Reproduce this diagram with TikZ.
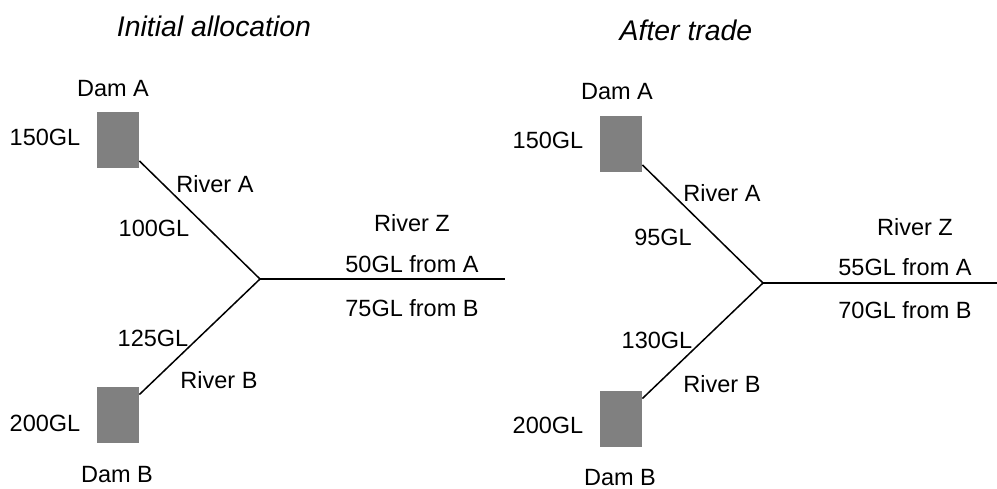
\documentclass[tikz,border=0pt]{standalone}
\usepackage{fontspec}
\setmainfont{Liberation Sans}
\usepackage{tikz}
\usetikzlibrary{positioning}
\tikzset{
    dam/.style={rectangle, fill=gray, draw=none, minimum width=21pt, minimum height=28pt, inner sep=0pt},
    lbl/.style={inner sep=0pt, font=\fontsize{11.75}{13}\selectfont},
    heading/.style={inner sep=0pt, font=\fontsize{14.2}{16}\selectfont\itshape},
    river/.style={line width=0.75pt}
}

\begin{document}
\begin{tikzpicture}[x=0.5pt, y=-0.5pt]
  \useasboundingbox (0,0) rectangle (997,488);
  % initial allocation
  \node[heading] (titleL) at (214,26) {Initial allocation};
  \node[dam] (damAL) at (118,140) {};
  \node[dam] (damBL) at (118,415) {};
  \node[lbl] (nameAL) at (113,89) {Dam A};
  \node[lbl] (nameBL) at (117,475) {Dam B};
  \node[lbl] (volAL) at (45,137) {150GL};
  \node[lbl] (volBL) at (45,423) {200GL};
  \coordinate (joinL) at (260,279);
  \coordinate (outL) at (505,279);
  \node[lbl] (rivAL) at (215,184) {River A};
  \node[lbl] (flowAL) at (154,228) {100GL};
  \node[lbl] (rivBL) at (219,380) {River B};
  \node[lbl] (flowBL) at (153,338) {125GL};
  \node[lbl] (rivZL) at (412,223) {River Z};
  \node[lbl] (fromAL) at (412,264) {50GL from A};
  \node[lbl] (fromBL) at (412,308) {75GL from B};
  \draw[river] (joinL) -- (damAL);
  \draw[river] (joinL) -- (damBL);
  \draw[river] (joinL) -- (outL);
  % after trade
  \node[heading] (titleR) at (686,30) {After trade};
  \node[dam] (damAR) at (621,144) {};
  \node[dam] (damBR) at (621,419) {};
  \node[lbl] (nameAR) at (617,92) {Dam A};
  \node[lbl] (nameBR) at (620,478) {Dam B};
  \node[lbl] (volAR) at (548,140) {150GL};
  \node[lbl] (volBR) at (548,425) {200GL};
  \coordinate (joinR) at (763,283);
  \coordinate (outR) at (997,283);
  \node[lbl] (rivAR) at (722,193) {River A};
  \node[lbl] (flowAR) at (663,237) {95GL};
  \node[lbl] (rivBR) at (722,384) {River B};
  \node[lbl] (flowBR) at (657,340) {130GL};
  \node[lbl] (rivZR) at (915,227) {River Z};
  \node[lbl] (fromAR) at (905,267) {55GL from A};
  \node[lbl] (fromBR) at (905,310) {70GL from B};
  \draw[river] (joinR) -- (damAR);
  \draw[river] (joinR) -- (damBR);
  \draw[river] (joinR) -- (outR);
\end{tikzpicture}
\end{document}
